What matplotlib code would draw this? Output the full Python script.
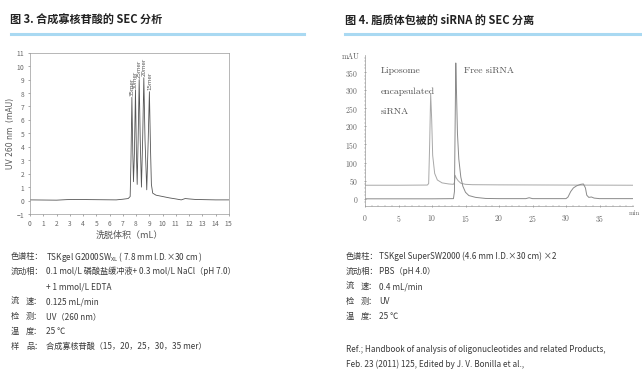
import matplotlib
matplotlib.use("Agg")
import matplotlib.pyplot as plt
from matplotlib.ticker import MultipleLocator

plt.rcParams['font.family'] = ['Noto Sans CJK SC', 'DejaVu Sans']
plt.rcParams['axes.formatter.use_mathtext'] = True

W, H = 642, 372

# ---------------- data: Fig. 3 (oligonucleotide SEC) ----------------
fig3_x = [0, 1, 2, 2.8, 3.5, 4.5, 5.5, 6.5, 7.0, 7.4, 7.55, 7.61, 7.68, 7.75, 7.8,
          7.87, 7.95, 8.02, 8.08, 8.15, 8.23, 8.31, 8.4, 8.49, 8.58, 8.67, 8.8,
          8.91, 9.0, 9.08, 9.15, 9.25, 9.5, 10.0, 10.5, 11.0, 11.4, 11.7, 12.0,
          12.5, 13.0, 14.0, 15.0]
fig3_y = [0.05, 0.04, 0.03, 0.07, 0.08, 0.07, 0.06, 0.05, 0.1, 0.15, 0.3, 3.0, 7.68, 3.5, 1.4,
          3.5, 8.22, 3.5, 1.2, 4.5, 9.0, 4.5, 1.0, 4.5, 9.14, 4.5, 0.8,
          4.5, 8.1, 4.0, 1.2, 0.55, 0.4, 0.3, 0.2, 0.12, 0.05, 0.15, 0.12,
          0.08, 0.07, 0.05, 0.05]
fig3_peak_labels = ["35mer", "30mer", "25mer", "20mer", "15mer"]
fig3_peak_x = [7.68, 7.95, 8.23, 8.58, 9.0]
fig3_peak_y = [7.68, 8.22, 9.0, 9.14, 8.1]
fig3_yticks = list(range(-1, 12))
fig3_xticks = list(range(0, 16))

# ---------------- data: Fig. 4 (liposome siRNA SEC) ----------------
lipo_x = [0, 5, 9.3, 9.5, 9.65, 9.8, 9.95, 10.1, 10.4, 10.8, 11.5, 12.5, 13.2, 13.35,
          13.45, 13.6, 13.9, 14.3, 15.0, 16.0, 20.0, 30.0, 40.0]
lipo_y = [37.5, 37.5, 38, 42, 150, 290, 220, 120, 70, 52, 44, 41, 40, 45,
          65, 58, 50, 43, 40, 39, 38.5, 38, 37.5]
free_x = [0, 5, 10, 13.2, 13.35, 13.45, 13.55, 13.65, 13.8, 14.0, 14.3, 14.6, 15.0,
          15.5, 16.5, 18, 20, 24, 24.5, 25, 30, 30.3, 30.7, 31.1, 31.6, 32.2, 32.6,
          32.9, 33.1, 33.4, 33.8, 34.2, 35, 40]
free_y = [0, 0, 0, 0.5, 20, 200, 375, 300, 180, 110, 60, 35, 18,
          9, 4, 1, 0.5, 0.5, 3, 0.5, 0.5, 5, 20, 30, 36, 40, 41,
          30, 10, 4, 5, 2, 0.5, 0.5]
fig4_xticks = [0, 5, 10, 15, 20, 25, 30, 35]
fig4_yticks = [0, 50, 100, 150, 200, 250, 300, 350]

# ---------------- text ----------------
title3 = "图 3. 合成寡核苷酸的 SEC 分析"
title4 = "图 4. 脂质体包被的 siRNA 的 SEC 分离"
left_labels = [("色谱柱", None), ("流动相", None), (None, None), ("流", "速"),
               ("检", "测"), ("温", "度"), ("样", "品")]
left_values = ["TSKgel G2000SW$\\mathregular{_{XL}}$ ( 7.8 mm I.D.×30 cm )",
               "0.1 mol/L 磷酸盐缓冲液+ 0.3 mol/L NaCl（pH 7.0）",
               "+ 1 mmol/L EDTA",
               "0.125 mL/min",
               "UV（260 nm）",
               "25 ℃",
               "合成寡核苷酸（15，20，25，30，35 mer）"]
right_labels = [("色谱柱", None), ("流动相", None), ("流", "速"), ("检", "测"), ("温", "度")]
right_values = ["TSKgel SuperSW2000 (4.6 mm I.D.×30 cm) ×2",
                "PBS（pH 4.0）",
                "0.4 mL/min",
                "UV",
                "25 ℃"]
ref_lines = ["Ref.; Handbook of analysis of oligonucleotides and related Products,",
             "Feb. 23 (2011) 125, Edited by J. V. Bonilla et al.,"]

fig = plt.figure(figsize=(W / 100, H / 100), dpi=100)


def fx(x):
    return x / W


def fy(y):
    return 1 - y / H


TXT = '#3a3a3a'
BLUE = '#a9d9f2'

# titles and blue rules
fig.text(fx(10), fy(20.5), title3, fontsize=8.0, fontweight='bold', color='#222222', va='center')
fig.text(fx(345), fy(20.5), title4, fontsize=8.0, fontweight='bold', color='#222222', va='center')
fig.add_artist(plt.Line2D([fx(11), fx(304)], [fy(33.5), fy(33.5)], color=BLUE, lw=2.2))
fig.add_artist(plt.Line2D([fx(345), fx(640)], [fy(33.5), fy(33.5)], color=BLUE, lw=2.2))

# ---------------- left chart ----------------
ax1 = fig.add_axes([fx(30), fy(214), (229 - 30) / W, (214 - 52.7) / H])
ax1.plot(fig3_x, fig3_y, color='#555555', lw=0.6)
ax1.set_xlim(0, 15)
ax1.set_ylim(-1, 11)
ax1.set_xticks(fig3_xticks)
ax1.set_yticks(fig3_yticks)
ax1.tick_params(labelsize=4.8, length=1.5, width=0.4, colors='#666666', pad=2)
for s in ax1.spines.values():
    s.set_color('#9a9a9a')
    s.set_linewidth(0.5)
ax1.set_ylabel("UV 260 nm  (mAU)", fontsize=5.5, color='#555555', labelpad=1,
               family=['DejaVu Sans'])
ax1.set_xlabel("洗脱体积（mL）", fontsize=6.5, color='#555555', labelpad=2)
for lab, px_, py_ in zip(fig3_peak_labels, fig3_peak_x, fig3_peak_y):
    ax1.text(px_, py_ + 0.1, lab, rotation=90, fontsize=4.0, color='#555555',
             ha='center', va='bottom', family=['DejaVu Sans'])

# ---------------- right chart ----------------
ax2 = fig.add_axes([fx(365), fy(205.7), (633 - 365) / W, (205.7 - 55) / H])
ax2.plot(lipo_x, lipo_y, color='#a8a8a8', lw=0.7)
ax2.plot(free_x, free_y, color='#8a8a8a', lw=0.7)
ax2.set_xlim(0, 40)
ax2.set_ylim(-19, 397)
ax2.set_xticks(fig4_xticks)
ax2.set_yticks(fig4_yticks)
ax2.xaxis.set_minor_locator(MultipleLocator(1))
ax2.yaxis.set_minor_locator(MultipleLocator(10))
ax2.spines['top'].set_visible(False)
ax2.spines['right'].set_visible(False)
for s in ('left', 'bottom'):
    ax2.spines[s].set_color('#9a9a9a')
    ax2.spines[s].set_linewidth(0.5)
ax2.tick_params(which='major', labelsize=5.5, length=2, width=0.4, colors='#666666',
                direction='inout', pad=4)
ax2.tick_params(which='minor', length=1.2, width=0.3, colors='#888888', direction='inout')
for t in ax2.get_xticklabels() + ax2.get_yticklabels():
    t.set_fontfamily('cmr10')
ax2.text(-0.02, 0.985, "mAU", transform=ax2.transAxes, fontsize=5.5, color='#555555',
         ha='right', va='center', family='cmr10')
fig.text(fx(629), fy(213.5), "min", fontsize=5.0, color='#666666', va='center', family='cmr10')
for txt, yy in [("Liposome", 70.7), ("encapsulated", 91.7), ("siRNA", 111.7)]:
    fig.text(fx(380.5), fy(yy), txt, fontsize=7, color='#555555', va='center', family='cmr10')
fig.text(fx(464), fy(70.7), "Free siRNA", fontsize=7, color='#555555', va='center', family='cmr10')

# ---------------- condition texts ----------------
BFS = 5.9


def draw_label(x0, y, lab):
    a, b = lab
    if a is None:
        return
    if b is None:
        fig.text(fx(x0), fy(y), a + "：", fontsize=BFS, color=TXT, va='center')
    else:
        fig.text(fx(x0), fy(y), a, fontsize=BFS, color=TXT, va='center')
        fig.text(fx(x0 + 15), fy(y), b + "：", fontsize=BFS, color=TXT, va='center')


ys_left = [256.7 + 15 * i for i in range(len(left_values))]
for lab, val, y in zip(left_labels, left_values, ys_left):
    draw_label(11, y, lab)
    fig.text(fx(46), fy(y), val, fontsize=BFS, color=TXT, va='center')

ys_right = [256.7 + 15 * i for i in range(len(right_values))]
for lab, val, y in zip(right_labels, right_values, ys_right):
    draw_label(346, y, lab)
    fig.text(fx(379), fy(y), val, fontsize=BFS, color=TXT, va='center')

for i, line in enumerate(ref_lines):
    fig.text(fx(346), fy(349 + 15 * i), line, fontsize=BFS, color=TXT, va='center')

fig.savefig("out.png", dpi=100, facecolor='white')
